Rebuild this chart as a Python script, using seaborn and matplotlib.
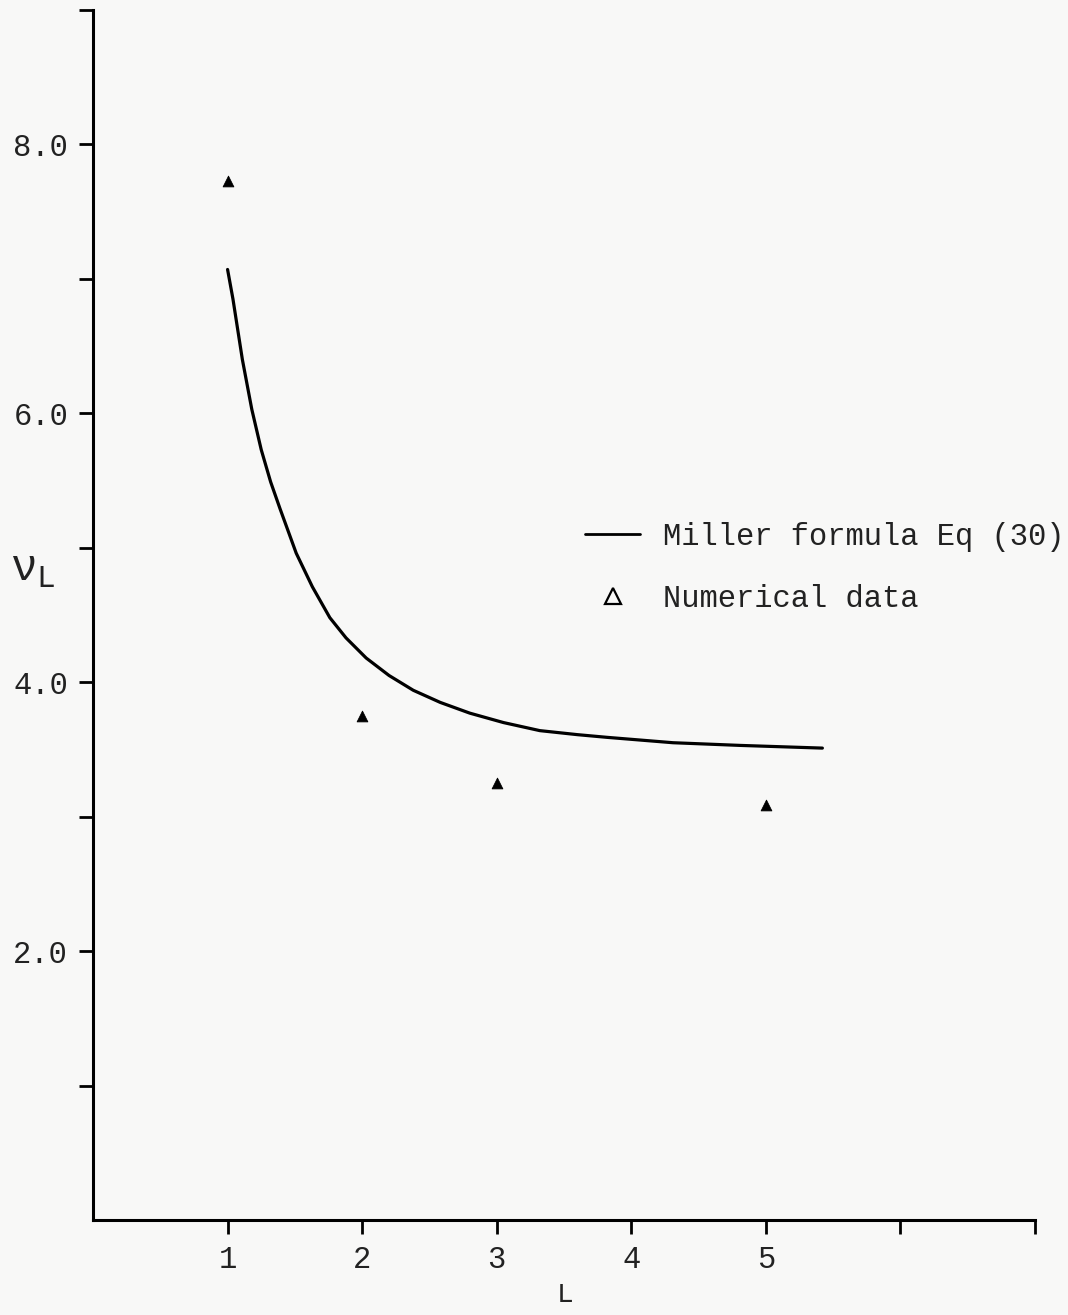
import numpy as np
import pandas as pd
import matplotlib
matplotlib.use("Agg")
import matplotlib.pyplot as plt
from matplotlib.lines import Line2D
import seaborn as sns

# Miller formula curve
curve_L = [1.0, 1.04, 1.11, 1.18, 1.25, 1.32, 1.39, 1.51, 1.63, 1.76, 1.88,
           2.03, 2.20, 2.38, 2.58, 2.80, 3.05, 3.32, 3.60, 3.82, 4.31, 4.81, 5.42]
curve_nu = [7.07, 6.85, 6.40, 6.03, 5.73, 5.49, 5.29, 4.96, 4.71, 4.48, 4.33,
            4.18, 4.05, 3.94, 3.85, 3.77, 3.70, 3.64, 3.61, 3.59, 3.55, 3.53, 3.51]

# numerical data points
data_L = [1, 2, 3, 5]
data_nu = [7.73, 3.75, 3.25, 3.09]

x_ticks = [1, 2, 3, 4, 5, 6, 7]
x_labels = ["1", "2", "3", "4", "5", "", ""]
y_ticks = [1, 2, 3, 4, 5, 6, 7, 8, 9]
y_labels = ["", "2.0", "", "4.0", "", "6.0", "", "8.0", ""]

sns.set_theme(style="white")
plt.rcParams['font.family'] = ['Liberation Mono', 'DejaVu Sans Mono']
plt.rcParams['mathtext.fontset'] = 'custom'
plt.rcParams['mathtext.rm'] = 'Liberation Mono'
plt.rcParams['mathtext.it'] = 'Liberation Mono'

bg = '#f8f8f7'
fig = plt.figure(figsize=(10.68, 13.15), dpi=100, facecolor=bg)
ax = fig.add_axes([93 / 1068, 1 - 1220 / 1315, 942 / 1068, 1210 / 1315])
ax.set_facecolor(bg)

curve_df = pd.DataFrame({'L': curve_L, 'nu': curve_nu})
data_df = pd.DataFrame({'L': data_L, 'nu': data_nu})

sns.lineplot(data=curve_df, x='L', y='nu', ax=ax, color='black', lw=2.3)
sns.scatterplot(data=data_df, x='L', y='nu', ax=ax, marker='^', color='black',
                s=60, edgecolor='black', linewidth=0.6)

ax.set_xlim(0, 7)
ax.set_ylim(0, 9)
ax.set_xticks(x_ticks)
ax.set_xticklabels(x_labels)
ax.set_yticks(y_ticks)
ax.set_yticklabels(y_labels)

for s in ['top', 'right']:
    ax.spines[s].set_visible(False)
for s in ['left', 'bottom']:
    ax.spines[s].set_color('black')
    ax.spines[s].set_linewidth(2.2)

ax.tick_params(axis='both', direction='out', length=10, width=2.0, color='black',
               labelsize=22, labelcolor='#222222', pad=8, left=True, bottom=True)

ax.set_xlabel('L', fontsize=20, color='#222222')
ax.xaxis.set_label_coords((565 - 93) / 942, -(1282 - 1220) / 1210)
ax.set_ylabel(r'$\nu_{\mathrm{L}}$', fontsize=32, rotation=0, color='#222222')
ax.yaxis.set_label_coords(-(93 - 33) / 942, (1220 - 590) / 1210)

handles = [
    Line2D([0], [0], color='black', lw=2.0),
    Line2D([0], [0], color='black', lw=0, marker='^', markersize=11,
           markerfacecolor='none', markeredgewidth=1.6),
]
leg = ax.legend(handles, ['Miller formula Eq (30)', 'Numerical data'],
                loc='upper left', bbox_to_anchor=((585 - 93) / 942, (1220 - 522) / 1210),
                frameon=False, fontsize=22, handlelength=1.8, handletextpad=0.75,
                labelspacing=1.05, borderpad=0, borderaxespad=0)
for t in leg.get_texts():
    t.set_color('#222222')

fig.savefig('out.png', dpi=100, facecolor=bg)
